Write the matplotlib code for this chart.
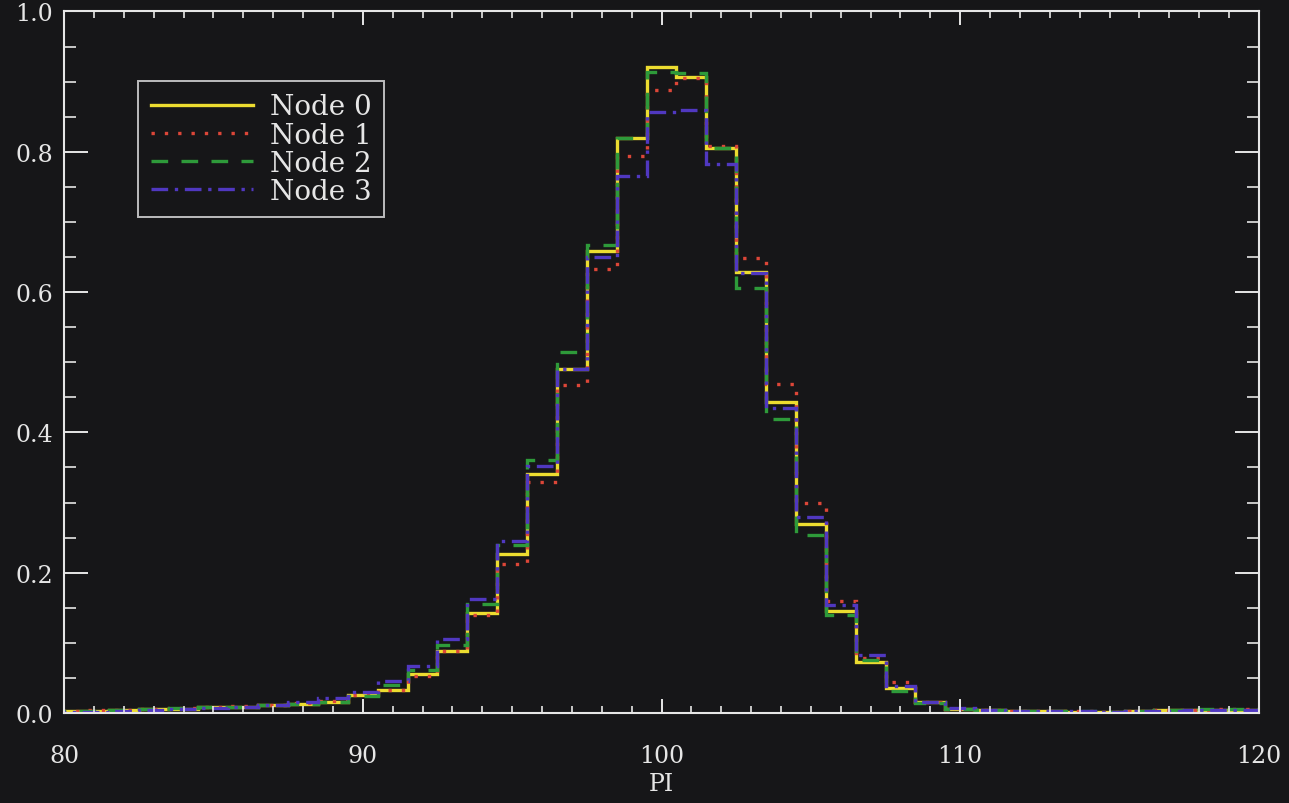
import numpy as np
import matplotlib
matplotlib.use('Agg')
import matplotlib.pyplot as plt
from matplotlib.ticker import MultipleLocator, FormatStrFormatter

# bin centres (PI), one bin per integer
pi_bins = list(range(80, 121))

node0 = [0.003, 0.003, 0.004, 0.005, 0.006, 0.008, 0.009, 0.011, 0.013, 0.015,
         0.025, 0.033, 0.056, 0.089, 0.142, 0.227, 0.340, 0.490, 0.659, 0.820,
         0.921, 0.906, 0.805, 0.629, 0.443, 0.270, 0.145, 0.072, 0.036, 0.015,
         0.006, 0.004, 0.003, 0.003, 0.002, 0.001, 0.003, 0.004, 0.004, 0.004, 0.004]
node1 = [0.003, 0.004, 0.004, 0.005, 0.007, 0.008, 0.010, 0.012, 0.014, 0.017,
         0.025, 0.033, 0.053, 0.089, 0.140, 0.212, 0.329, 0.467, 0.633, 0.794,
         0.888, 0.905, 0.808, 0.648, 0.469, 0.300, 0.160, 0.078, 0.044, 0.016,
         0.006, 0.004, 0.003, 0.003, 0.003, 0.002, 0.003, 0.004, 0.004, 0.005, 0.005]
node2 = [0.003, 0.003, 0.004, 0.006, 0.007, 0.008, 0.009, 0.011, 0.013, 0.016,
         0.024, 0.040, 0.061, 0.097, 0.156, 0.239, 0.360, 0.515, 0.667, 0.820,
         0.914, 0.912, 0.805, 0.606, 0.419, 0.254, 0.140, 0.075, 0.031, 0.014,
         0.006, 0.004, 0.003, 0.003, 0.003, 0.002, 0.003, 0.004, 0.005, 0.005, 0.005]
node3 = [0.002, 0.002, 0.003, 0.004, 0.005, 0.007, 0.009, 0.012, 0.015, 0.021,
         0.030, 0.046, 0.067, 0.106, 0.162, 0.245, 0.352, 0.490, 0.650, 0.766,
         0.856, 0.860, 0.783, 0.627, 0.435, 0.279, 0.154, 0.083, 0.038, 0.016,
         0.007, 0.004, 0.003, 0.003, 0.003, 0.002, 0.003, 0.003, 0.004, 0.004, 0.004]

labels = ['Node 0', 'Node 1', 'Node 2', 'Node 3']
colors = ['#ecdc30', '#dc4638', '#2e9a3a', '#5038c0']
styles = ['-', (0, (1, 3)), (0, (5, 4)), (0, (5, 2, 1, 2))]

bg = '#161618'
fg = '#e6e6e6'
plt.rcParams['font.family'] = ['DejaVu Serif']

fig = plt.figure(figsize=(12.89, 8.04), dpi=100, facecolor=bg)
ax = fig.add_axes([0.0497, 0.112, 0.927, 0.8725], facecolor=bg)

edges = np.array(pi_bins + [pi_bins[-1] + 1]) - 0.5
for vals, c, ls, lab in zip([node0, node1, node2, node3], colors, styles, labels):
    ax.stairs(vals, edges, color=c, linestyle=ls, linewidth=2.4, label=lab, baseline=None)

ax.set_xlim(80, 120)
ax.set_ylim(0, 1.0)

# ticks inside on all four sides, like the IDL plot
ax.xaxis.set_major_locator(MultipleLocator(10))
ax.xaxis.set_minor_locator(MultipleLocator(1))
ax.yaxis.set_major_locator(MultipleLocator(0.2))
ax.yaxis.set_minor_locator(MultipleLocator(0.05))
ax.yaxis.set_major_formatter(FormatStrFormatter('%.1f'))
ax.tick_params(axis='x', which='major', direction='in', length=10, width=1.4,
               top=True, color=fg, labelcolor=fg, labelsize=17, pad=22)
ax.tick_params(axis='x', which='minor', direction='in', length=5, width=1.2,
               top=True, color=fg)
ax.tick_params(axis='y', which='major', direction='in', length=17, width=1.4,
               right=True, color=fg, labelcolor=fg, labelsize=17, pad=8)
ax.tick_params(axis='y', which='minor', direction='in', length=8.5, width=1.2,
               right=True, color=fg)
for s in ax.spines.values():
    s.set_color(fg)
    s.set_linewidth(1.5)

ax.set_xlabel('PI', color=fg, fontsize=17, labelpad=4)

leg = ax.legend(loc='upper left', bbox_to_anchor=(0.062, 0.901), frameon=True,
                fancybox=False, facecolor=bg, edgecolor=fg, fontsize=20,
                handlelength=3.7, handletextpad=0.6, labelspacing=0.04,
                borderpad=0.45, borderaxespad=0)
leg.get_frame().set_linewidth(1.4)
for t in leg.get_texts():
    t.set_color(fg)

fig.savefig('out.png', dpi=100, facecolor=bg)
